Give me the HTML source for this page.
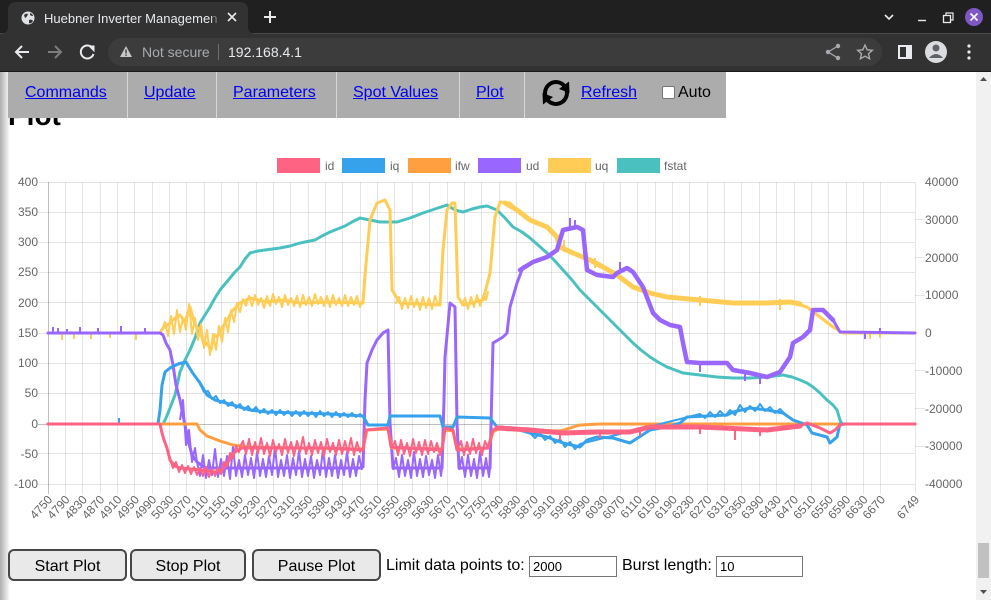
<!DOCTYPE html>
<html><head><meta charset="utf-8">
<style>
html,body{margin:0;padding:0;width:991px;height:600px;overflow:hidden;background:#fff;font-family:"Liberation Sans",Arial,sans-serif;}
.abs{position:absolute;}
.nav a{position:absolute;color:#0000ee;text-decoration:underline;font-size:16px;line-height:18px;top:84px;white-space:nowrap;}
.sep{position:absolute;top:72px;width:1px;height:46px;background:#d8d8d8;}
.btn{position:absolute;top:549px;height:32px;box-sizing:border-box;border:2px solid #484848;border-radius:6px;background:#e9e9e9;font-size:16px;color:#000;display:flex;align-items:center;justify-content:center;padding-top:3px;}
.lbl{position:absolute;top:556px;font-size:16px;line-height:20px;color:#000;white-space:nowrap;}
.inp{position:absolute;top:556px;height:21px;box-sizing:border-box;border:1px solid #767676;background:#fff;font-size:13px;line-height:19px;padding-left:3px;color:#000;}
</style></head><body>

<svg class="abs" style="left:0;top:0" width="991" height="600" viewBox="0 0 991 600" font-family="Liberation Sans, Arial, sans-serif">
<rect x="0" y="0" width="991" height="34" fill="#202020"/>
<rect x="0" y="33" width="991" height="1" fill="#4a4a4a"/>
<path d="M0 34 Q8 34 8 26 L8 10 Q8 2 16 2 L240 2 Q248 2 248 10 L248 26 Q248 34 256 34 Z" fill="#323232"/>
<rect x="0" y="34" width="991" height="37" fill="#323232"/>
<rect x="0" y="71" width="991" height="1" fill="#1a1a1a"/>
<circle cx="28" cy="18" r="6.5" fill="#dfe1e5"/>
<path d="M24 15 Q26 13 28 14 Q27 17 25 18 Z M29 20 Q32 19 33 21 Q31 24 29 23 Z M30 13 Q33 14 33 16 Q31 16 30 15Z" fill="#323232"/>
<text x="44" y="23" font-size="13" fill="#e8eaed">Huebner Inverter Managemen</text>
<rect x="212" y="6" width="12" height="24" fill="#323232" opacity="0.6"/>
<path d="M228 13 L236 21 M236 13 L228 21" stroke="#e8eaed" stroke-width="1.6"/>
<path d="M270 11 L270 23 M264 17 L276 17" stroke="#e8eaed" stroke-width="2"/>
<path d="M885 15 L889 19 L893 15" stroke="#e8eaed" stroke-width="1.6" fill="none"/>
<path d="M918 20.5 L926 20.5" stroke="#e8eaed" stroke-width="1.4"/>
<rect x="943.5" y="15.5" width="7" height="7" stroke="#e8eaed" fill="none" stroke-width="1.3"/>
<path d="M946 15.5 L946 13 L953 13 L953 20 L950.5 20" stroke="#e8eaed" fill="none" stroke-width="1.2"/>
<circle cx="974" cy="17" r="9" fill="#7e57c2"/>
<path d="M970.5 13.5 L977.5 20.5 M977.5 13.5 L970.5 20.5" stroke="#fff" stroke-width="1.6"/>
<path d="M29 52 L16 52 M22 46 L16 52 L22 58" stroke="#e8eaed" stroke-width="2" fill="none"/>
<path d="M48 52 L61 52 M55 46 L61 52 L55 58" stroke="#7c7c7c" stroke-width="2" fill="none"/>
<path d="M92.5 48 A6.5 6.5 0 1 0 93.5 54" stroke="#e8eaed" stroke-width="2" fill="none"/>
<path d="M89 46 L94 46 L94 51 Z" fill="#e8eaed" stroke="#e8eaed" stroke-width="1"/>
<rect x="108" y="38" width="774" height="28" rx="14" fill="#3c3c3c"/>
<path d="M126 46 L132 57 L120 57 Z" fill="#c4c7c5"/>
<rect x="125.3" y="49.5" width="1.4" height="4" fill="#3c3c3c"/>
<rect x="125.3" y="54.5" width="1.4" height="1.4" fill="#3c3c3c"/>
<text x="142" y="57" font-size="14" fill="#a8abaf">Not secure</text>
<rect x="218" y="44" width="1" height="16" fill="#6f6f6f"/>
<text x="228" y="57" font-size="14" fill="#e8eaed">192.168.4.1</text>
<circle cx="838" cy="46" r="2.2" fill="#a8abaf"/><circle cx="828" cy="52" r="2.2" fill="#a8abaf"/><circle cx="838" cy="58" r="2.2" fill="#a8abaf"/>
<path d="M838 46 L828 52 L838 58" stroke="#a8abaf" stroke-width="1.3" fill="none"/>
<path d="M865 45 L867.2 49.8 L872.3 50.3 L868.5 53.7 L869.6 58.8 L865 56.2 L860.4 58.8 L861.5 53.7 L857.7 50.3 L862.8 49.8 Z" stroke="#a8abaf" stroke-width="1.4" fill="none"/>
<rect x="898" y="45" width="14" height="14" fill="#e8eaed"/>
<rect x="900" y="47" width="6" height="10" fill="#323232"/>
<circle cx="936" cy="52" r="11" fill="#dadce0"/>
<circle cx="936" cy="48" r="3.5" fill="#5f6368"/>
<path d="M929 58 Q936 50 943 58 Z" fill="#5f6368"/>
<circle cx="969" cy="46" r="1.6" fill="#e8eaed"/><circle cx="969" cy="52" r="1.6" fill="#e8eaed"/><circle cx="969" cy="58" r="1.6" fill="#e8eaed"/>

<defs>
<linearGradient id="lsh" x1="0" x2="1" y1="0" y2="0">
<stop offset="0" stop-color="#000" stop-opacity="0.32"/>
<stop offset="1" stop-color="#000" stop-opacity="0"/>
</linearGradient>
</defs>
<text x="8" y="125" font-size="28" font-weight="bold" fill="#000">Plot</text>

<g font-size="12" fill="#666">
<rect x="277.5" y="158.5" width="42" height="14" fill="#ff6384" stroke="#ff6384"/><text x="325" y="170">id</text>
<rect x="342.5" y="158.5" width="42" height="14" fill="#36a2eb" stroke="#36a2eb"/><text x="390" y="170">iq</text>
<rect x="408.5" y="158.5" width="42" height="14" fill="#ff9f40" stroke="#ff9f40"/><text x="455" y="170">ifw</text>
<rect x="478.5" y="158.5" width="42" height="14" fill="#9966ff" stroke="#9966ff"/><text x="526" y="170">ud</text>
<rect x="548.5" y="158.5" width="42" height="14" fill="#ffcd56" stroke="#ffcd56"/><text x="595" y="170">uq</text>
<rect x="617.5" y="158.5" width="42" height="14" fill="#4bc0c0" stroke="#4bc0c0"/><text x="664" y="170">fstat</text>
</g>

<g stroke="#000" stroke-opacity="0.1" stroke-width="1">
<path d="M38 182.5H915 M38 212.5H915 M38 242.5H915 M38 272.5H915 M38 302.5H915 M38 333.5H915 M38 363.5H915 M38 393.5H915 M38 453.5H915 M38 484.5H915"/>
<path d="M65.5 182V494 M82.5 182V494 M100.5 182V494 M117.5 182V494 M134.5 182V494 M152.5 182V494 M169.5 182V494 M186.5 182V494 M204.5 182V494 M221.5 182V494 M238.5 182V494 M256.5 182V494 M273.5 182V494 M290.5 182V494 M308.5 182V494 M325.5 182V494 M342.5 182V494 M360.5 182V494 M377.5 182V494 M394.5 182V494 M412.5 182V494 M429.5 182V494 M447.5 182V494 M464.5 182V494 M481.5 182V494 M499.5 182V494 M516.5 182V494 M533.5 182V494 M551.5 182V494 M568.5 182V494 M585.5 182V494 M603.5 182V494 M620.5 182V494 M637.5 182V494 M655.5 182V494 M672.5 182V494 M689.5 182V494 M707.5 182V494 M724.5 182V494 M741.5 182V494 M759.5 182V494 M776.5 182V494 M794.5 182V494 M811.5 182V494 M828.5 182V494 M846.5 182V494 M863.5 182V494 M880.5 182V494 M915.5 182V494"/>
<path d="M915 219.5H925 M915 257.5H925 M915 295.5H925 M915 370.5H925 M915 408.5H925 M915 446.5H925"/>
</g>
<g stroke="#000" stroke-opacity="0.25" stroke-width="1">
<path d="M38 424.5H915 M48.5 182V494"/>
</g>

<g font-size="12" fill="#666" text-anchor="end">
<text x="38" y="186">400</text><text x="38" y="216">350</text><text x="38" y="246">300</text>
<text x="38" y="276">250</text><text x="38" y="307">200</text><text x="38" y="337">150</text>
<text x="38" y="367">100</text><text x="38" y="397">50</text><text x="38" y="428">0</text>
<text x="38" y="458">-50</text><text x="38" y="488">-100</text>
</g>
<g font-size="12" fill="#666">
<text x="925" y="186">40000</text><text x="925" y="224">30000</text><text x="925" y="262">20000</text>
<text x="925" y="299">10000</text><text x="925" y="337">0</text><text x="925" y="375">-10000</text>
<text x="925" y="413">-20000</text><text x="925" y="450">-30000</text><text x="925" y="488">-40000</text>
</g>
<g font-size="12" fill="#666" text-anchor="end">
<text transform="translate(53,500) rotate(-48)">4750</text>
<text transform="translate(70.4,500) rotate(-48)">4790</text>
<text transform="translate(87.7,500) rotate(-48)">4830</text>
<text transform="translate(105.1,500) rotate(-48)">4870</text>
<text transform="translate(122.4,500) rotate(-48)">4910</text>
<text transform="translate(139.8,500) rotate(-48)">4950</text>
<text transform="translate(157.1,500) rotate(-48)">4990</text>
<text transform="translate(174.4,500) rotate(-48)">5030</text>
<text transform="translate(191.8,500) rotate(-48)">5070</text>
<text transform="translate(209.1,500) rotate(-48)">5110</text>
<text transform="translate(226.5,500) rotate(-48)">5150</text>
<text transform="translate(243.8,500) rotate(-48)">5190</text>
<text transform="translate(261.2,500) rotate(-48)">5230</text>
<text transform="translate(278.5,500) rotate(-48)">5270</text>
<text transform="translate(295.9,500) rotate(-48)">5310</text>
<text transform="translate(313.2,500) rotate(-48)">5350</text>
<text transform="translate(330.6,500) rotate(-48)">5390</text>
<text transform="translate(347.9,500) rotate(-48)">5430</text>
<text transform="translate(365.3,500) rotate(-48)">5470</text>
<text transform="translate(382.6,500) rotate(-48)">5510</text>
<text transform="translate(400,500) rotate(-48)">5550</text>
<text transform="translate(417.3,500) rotate(-48)">5590</text>
<text transform="translate(434.7,500) rotate(-48)">5630</text>
<text transform="translate(452,500) rotate(-48)">5670</text>
<text transform="translate(469.4,500) rotate(-48)">5710</text>
<text transform="translate(486.7,500) rotate(-48)">5750</text>
<text transform="translate(504.1,500) rotate(-48)">5790</text>
<text transform="translate(521.4,500) rotate(-48)">5830</text>
<text transform="translate(538.8,500) rotate(-48)">5870</text>
<text transform="translate(556.1,500) rotate(-48)">5910</text>
<text transform="translate(573.5,500) rotate(-48)">5950</text>
<text transform="translate(590.8,500) rotate(-48)">5990</text>
<text transform="translate(608.2,500) rotate(-48)">6030</text>
<text transform="translate(625.5,500) rotate(-48)">6070</text>
<text transform="translate(642.9,500) rotate(-48)">6110</text>
<text transform="translate(660.2,500) rotate(-48)">6150</text>
<text transform="translate(677.6,500) rotate(-48)">6190</text>
<text transform="translate(694.9,500) rotate(-48)">6230</text>
<text transform="translate(712.3,500) rotate(-48)">6270</text>
<text transform="translate(729.6,500) rotate(-48)">6310</text>
<text transform="translate(747,500) rotate(-48)">6350</text>
<text transform="translate(764.3,500) rotate(-48)">6390</text>
<text transform="translate(781.7,500) rotate(-48)">6430</text>
<text transform="translate(799,500) rotate(-48)">6470</text>
<text transform="translate(816.4,500) rotate(-48)">6510</text>
<text transform="translate(833.7,500) rotate(-48)">6550</text>
<text transform="translate(851.1,500) rotate(-48)">6590</text>
<text transform="translate(868.4,500) rotate(-48)">6630</text>
<text transform="translate(885.8,500) rotate(-48)">6670</text>
<text transform="translate(920,500) rotate(-48)">6749</text>
</g>

<g fill="none" stroke-linejoin="round" stroke-linecap="round">
<polyline stroke="#4bc0c0" stroke-width="3" points="48,424 160,424 163,424 166,418 170,408 175,395 180,372 185,360 190,350 195,338 200,323 205,315 210,307 215,298 220,290 225,284 230,278 235,272 240,267 245,259 250,253 258,251 265,250 280,248 290,246 300,243 315,240 322,236 330,232 345,226 352,222 360,218 370,220 380,222 397,222 410,218 423,213 435,209 447,205 455,210 463,212 472,209 480,207 487,206 497,210 505,218 513,227 522,232 530,238 538,245 547,253 555,261 563,270 572,280 580,290 588,298 597,307 607,317 617,327 625,335 633,343 641,350 650,357 658,362 667,367 675,370 683,373 700,375 717,377 733,378 750,378 767,377 783,375 792,377 800,380 807,383 813,387 820,393 827,400 833,405 837,410 840,420 842,424"/>

<polyline stroke="#ffcd56" stroke-width="3" points="48,333 160,333 163,328 170,323 175,318 180,315 185,322 190,307 195,325 200,330 204,345 207,343 211,350 214,335 217,337 222,328 227,320 233,310 240,303 250,298 267,302 283,300 300,303 330,302 363,303 365,275 370,220 377,203 385,200 390,210 392,290 400,303 440,305 443,250 447,210 452,203 455,203 458,297 463,305 483,300 490,273 495,217 500,202 510,203 517,210 530,220 547,227 557,237 560,247 573,253 590,260 603,267 617,275 633,287 650,293 667,297 700,300 733,303 767,303 790,302 807,307 820,317 833,327 843,333 915,333"/>
<polyline stroke="#ffcd56" stroke-width="5" points="505,203 517,210 530,220 547,227 557,237 560,247 573,253 590,260 603,267 617,275 633,287 650,293 667,297 700,300 733,303 767,303 790,302 800,304"/>
<polyline stroke="#ffcd56" stroke-width="2" stroke-linecap="butt" points="162,330 165,322 168,336 171,316 174,334 177,310 180,332 183,318 186,330 189,304 192,334 195,318 198,340 201,324 204,348 207,330 210,355 213,334 216,350 219,326 222,342 225,318 228,332 231,310 234,322 237,303 240,312 243,299 246,306 249,296 252,306 255,295 258,305 261,298 264,308 267,296 270,306 273,294 276,304 279,297 282,307 285,295 288,305 291,298 294,306 297,296 300,307 303,295 306,305 309,297 312,306 315,294 318,304 321,297 324,306 327,296 330,307 333,295 336,305 339,298 342,306 345,295 348,306 351,297 354,305 357,296 360,307 362,302"/>
<polyline stroke="#ffcd56" stroke-width="2" points="396,303 399,297 402,309 405,298 408,308 411,296 414,307 417,299 420,310 423,297 426,308 429,298 432,309 435,296 438,305 440,302"/>
<polyline stroke="#ffcd56" stroke-width="2" points="462,305 465,298 468,309 471,297 474,307 477,295 480,306 483,296 486,300 488,292"/>
</g>
<g stroke="#ffcd56" stroke-width="2">
<path d="M62 333V340 M74 333V339 M91 333V339 M136 333V340 M110 333V338 M870 333V339 M880 333V338 M564 240V252 M595 258V268 M700 296V306 M780 299V310"/>
</g>

<g fill="none" stroke-linejoin="round" stroke-linecap="round">
<polyline stroke="#9966ff" stroke-width="3" points="48,333 160,333 163,335 166,343 170,350 173,365 176,385 180,400 184,420 188,440 192,455 197,462 205,468 330,468 360,468 363,467 365,400 367,363 372,350 377,340 383,333 388,330 390,423 393,468 442,468 444,400 445,357 450,303 455,307 457,423 459,468 490,468 493,343 503,337 507,333 510,307 517,283 523,267 533,262 547,257 557,250 563,230 577,227 583,230 587,270 597,275 613,277 617,273 627,268 633,272 643,287 653,313 660,320 670,325 680,327 683,343 687,362 700,363 727,363 733,370 750,373 767,377 780,372 790,357 793,343 803,337 810,330 813,310 823,310 833,320 840,332 915,333"/>
<polyline stroke="#9966ff" stroke-width="4.5" points="520,270 533,262 547,257 557,250 563,230 577,227 583,230 587,270 597,275 613,277 617,273 627,268 633,272 643,287 653,313 660,320 670,325 680,327 683,343 687,362 700,363 727,363 733,370 750,373 767,377 780,372 790,357 793,343 803,337 810,330 813,310 823,310 833,320"/>
<polyline stroke="#9966ff" stroke-width="2" stroke-linecap="butt" points="180,420 183,400 186,445 189,430 192,462 195,448 197,462 200,476 203,455 206,478 209,460 212,475 215,449 218,477 221,459 224,476 227,456 230,479 233,446 236,476 239,460 242,477 245,455 248,475 251,458 254,478 257,452 260,476 263,459 266,477 269,456 272,475 275,447 278,477 281,460 284,476 287,455 290,478 293,458 296,475 299,451 302,477 305,459 308,476 311,456 314,478 317,460 320,475 323,449 326,477 329,458 332,476 335,455 338,478 341,460 344,475 347,452 350,477 353,459 356,476 359,456 362,470"/>
<polyline stroke="#9966ff" stroke-width="2" stroke-linecap="butt" points="393,470 396,458 399,477 402,455 405,476 408,460 411,478 414,452 417,476 420,459 423,477 426,456 429,475 432,460 435,478 438,455 441,476 442,468"/>
<polyline stroke="#9966ff" stroke-width="2" stroke-linecap="butt" points="459,470 462,457 465,477 468,455 471,476 474,459 477,478 480,452 483,476 486,458 489,477 490,468"/>
</g>
<g stroke="#9966ff" stroke-width="2">
<path d="M53 333V327 M58 333V328 M67 333V329 M80 333V327 M98 333V328 M121 333V326 M145 333V328 M880 333V328 M865 333V339 M570 228V218 M575 228V220 M620 272V262 M700 363V372 M745 372V381 M760 375V384"/>
</g>

<g fill="none" stroke-linejoin="round" stroke-linecap="round">
<polyline stroke="#ff9f40" stroke-width="3" points="48,424 197,424 200,430 207,436 220,441 233,445 250,447 300,448 363,449 367,430 388,429 392,448 442,449 445,430 453,431 457,449 488,448 493,432 500,428 530,430 560,431 570,428 580,425 600,424 915,424"/>
<polyline stroke="#36a2eb" stroke-width="3" points="48,424 158,424 160,410 162,385 165,372 170,368 178,364 186,362 192,372 200,383 207,395 215,400 233,405 250,410 267,412 300,413 330,414 363,416 368,425 388,425 390,416 440,416 443,427 453,427 457,417 490,418 497,427 513,428 530,433 547,437 563,443 580,447 587,440 597,437 613,438 630,443 650,430 667,427 680,423 687,417 727,415 733,412 750,408 767,410 783,413 793,420 807,425 812,433 827,437 830,443 837,437 840,424 915,424"/>
<polyline stroke="#36a2eb" stroke-width="2" stroke-linecap="butt" points="200,384 204,392 208,391 212,399 216,396 220,403 224,400 228,406 232,402 236,408 240,404 244,410 248,406 252,411 256,407 260,413 264,409 268,414 272,410 276,415 280,410 284,415 288,411 292,416 296,411 300,416 304,411 308,416 312,412 316,417 320,411 324,416 328,412 332,417 336,412 340,417 344,413 348,417 352,413 356,417 360,414 362,416"/>
<polyline stroke="#36a2eb" stroke-width="2" stroke-linecap="butt" points="530,433 535,438 540,433 545,440 550,436 555,443 560,439 565,447 570,442 575,449 580,444 700,414 705,418 710,412 715,417 720,411 725,416 730,410 735,415 740,405 745,412 750,406 755,411 760,404 765,411 770,407 775,413 780,409 785,414"/>
</g>
<path d="M119 424V418" stroke="#36a2eb" stroke-width="2"/>

<g fill="none" stroke-linejoin="round" stroke-linecap="round">
<polyline stroke="#ff6384" stroke-width="3" points="48,424 160,424 162,433 164,440 167,448 170,460 175,466 180,468 200,470 215,472 222,470 228,462 235,452 242,448 260,448 300,448 330,448 363,450 366,430 388,428 391,447 442,450 445,428 453,430 457,450 488,448 493,430 500,427 530,430 563,433 597,432 630,432 650,427 700,427 767,430 800,426 807,423 820,428 830,433 835,430 840,425 845,424 915,424"/>
<polyline stroke="#ff6384" stroke-width="5" points="497,428 530,430 563,433 597,432 630,432 650,427 700,427 767,430 800,426"/>
<polyline stroke="#ff6384" stroke-width="2" stroke-linecap="butt" points="170,460 173,468 176,462 179,472 182,465 185,473 188,466 191,474 194,467 197,475 200,468 203,476 206,467 209,477 212,469 215,476 218,468 221,474 224,462 227,466 230,453 233,458 236,446 239,452 240,447 243,441 246,454 249,439 252,455 255,442 258,453 261,438 264,454 267,443 270,456 273,440 276,452 279,444 282,455 285,439 288,453 291,442 294,456 297,441 300,452 303,437 306,454 309,443 312,455 315,440 318,453 321,442 324,456 327,439 330,452 333,443 336,455 339,440 342,454 345,441 348,453 351,438 354,455 357,442 360,452 362,448"/>
<polyline stroke="#ff6384" stroke-width="2" stroke-linecap="butt" points="392,448 395,441 398,455 401,440 404,454 407,443 410,456 413,439 416,453 419,442 422,455 425,440 428,454 431,441 434,452 437,443 440,455 442,449"/>
<polyline stroke="#ff6384" stroke-width="2" stroke-linecap="butt" points="458,449 461,441 464,455 467,442 470,454 473,439 476,453 479,443 482,455 485,441 488,448"/>
</g>
<g stroke="#ff6384" stroke-width="2">
<path d="M560 433V440 M600 432V438 M640 428V436 M700 427V434 M735 429V440 M760 430V436"/>
</g>

<rect x="0" y="72" width="10" height="528" fill="url(#lsh)"/>

<rect x="976" y="72" width="15" height="528" fill="#f1f1f1"/>
<path d="M980 81 L983.5 77 L987 81 Z" fill="#505050"/>
<path d="M980 590 L983.5 594 L987 590 Z" fill="#505050"/>
<rect x="978" y="543" width="11" height="35" fill="#c1c1c1"/>
</svg>

<div class="abs" style="left:8px;top:72px;width:718px;height:46px;background:#acacac;"></div>
<div class="sep" style="left:127px"></div>
<div class="sep" style="left:216px"></div>
<div class="sep" style="left:336px"></div>
<div class="sep" style="left:459px"></div>
<div class="sep" style="left:524px"></div>
<div class="nav">
<a style="left:25px">Commands</a>
<a style="left:144px">Update</a>
<a style="left:233px">Parameters</a>
<a style="left:353px">Spot Values</a>
<a style="left:476px">Plot</a>
<a style="left:581px">Refresh</a>
</div>
<svg class="abs" style="left:536px;top:76px" width="40" height="34" viewBox="536 76 40 34">
<path d="M545.7 96.8 A11 11 0 0 1 564.4 85.9" stroke="#000" stroke-width="4" fill="none"/>
<path d="M569 81.5 L569.5 93 L559 89 Z" fill="#000"/>
<path d="M566.3 89.2 A11 11 0 0 1 547.6 100.1" stroke="#000" stroke-width="4" fill="none"/>
<path d="M543 104.5 L542.5 93 L553 97 Z" fill="#000"/>
</svg>
<div class="abs" style="left:662px;top:86px;width:13px;height:13px;box-sizing:border-box;border:1px solid #767676;border-radius:2px;background:#fff;"></div>
<div class="abs" style="left:678px;top:84px;font-size:16px;line-height:18px;color:#000;">Auto</div>

<div class="btn" style="left:8px;width:119px;">Start Plot</div>
<div class="btn" style="left:130px;width:116px;">Stop Plot</div>
<div class="btn" style="left:252px;width:129px;">Pause Plot</div>
<div class="lbl" style="left:386px;">Limit data points to:</div>
<div class="inp" style="left:529px;width:88px;">2000</div>
<div class="lbl" style="left:622px;">Burst length:</div>
<div class="inp" style="left:716px;width:87px;">10</div>
</body></html>
